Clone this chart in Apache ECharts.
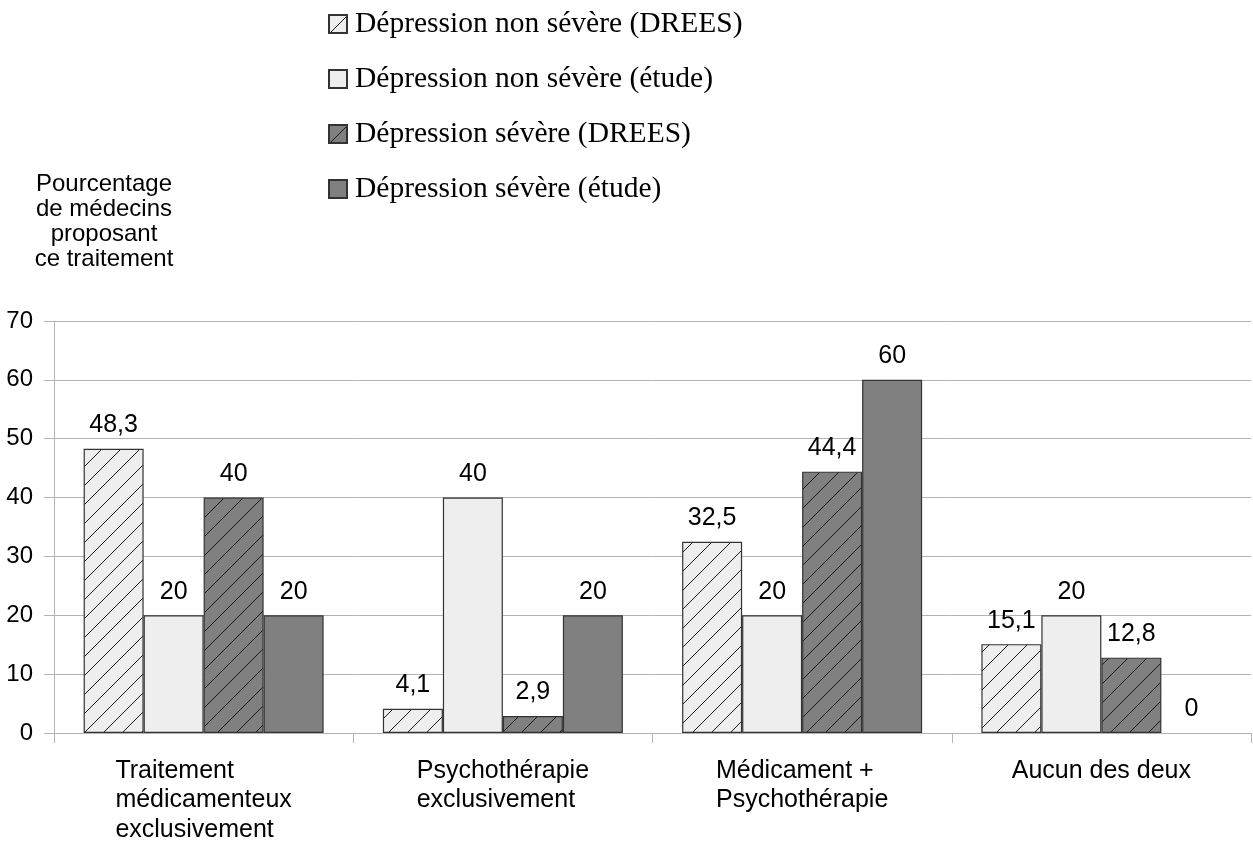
<!DOCTYPE html>
<html>
<head>
<meta charset="utf-8">
<script src="https://cdn.jsdelivr.net/npm/echarts@6/dist/echarts.min.js"></script>
<style>
  html, body { margin: 0; padding: 0; background: #fff; }
  #chart { width: 1253px; height: 843px; }
</style>
</head>
<body>
<div id="chart"></div>
<script>
// Categories of treatment proposed
const categories = [
  'Traitement\nmédicamenteux\nexclusivement',
  'Psychothérapie\nexclusivement',
  'Médicament +\nPsychothérapie',
  'Aucun des deux'
];

// Series names
const seriesNames = [
  'Dépression non sévère (DREES)',
  'Dépression non sévère (étude)',
  'Dépression sévère (DREES)',
  'Dépression sévère (étude)'
];

// Percentages per series (same order as categories)
const nonSevereDrees = [48.3, 4.1, 32.5, 15.1];
const nonSevereEtude = [20, 40, 20, 20];
const severeDrees = [40, 2.9, 44.4, 12.8];
const severeEtude = [20, 20, 60, 0];

const yTitleLines = ['Pourcentage', 'de médecins', 'proposant', 'ce traitement'];

// Diagonal hatch pattern drawn on a small tile
function hatch(bg) {
  const s = 19;
  const c = document.createElement('canvas');
  c.width = s; c.height = s;
  const ctx = c.getContext('2d');
  ctx.fillStyle = bg;
  ctx.fillRect(0, 0, s, s);
  ctx.strokeStyle = '#1a1a1a';
  ctx.lineWidth = 1;
  ctx.beginPath();
  ctx.moveTo(-1, s + 1); ctx.lineTo(s + 1, -1);
  ctx.moveTo(-2, 2); ctx.lineTo(2, -2);
  ctx.moveTo(s - 2, s + 2); ctx.lineTo(s + 2, s - 2);
  ctx.stroke();
  return { image: c, repeat: 'repeat' };
}

const LIGHT = '#eeeeee';
const DARK = '#808080';
const fills = [hatch(LIGHT), LIGHT, hatch(DARK), DARK];
const values = [nonSevereDrees, nonSevereEtude, severeDrees, severeEtude];

const fmt = v => String(v).replace('.', ',');

// A zero-height bar keeps its label but gets no outline
const toItems = arr => arr.map(v => (v === 0 ? { value: v, itemStyle: { borderWidth: 0 } } : v));

const chart = echarts.init(document.getElementById('chart'), null, { renderer: 'canvas' });

chart.setOption({
  animation: false,
  backgroundColor: '#ffffff',
  textStyle: { fontFamily: 'Liberation Sans, Arial, sans-serif', color: '#000' },
  legend: {
    orient: 'vertical',
    left: 328,
    top: 7,
    padding: 0,
    itemWidth: 18,
    itemHeight: 18,
    itemGap: 21,
    icon: 'rect',
    textStyle: {
      fontFamily: 'Liberation Serif, Times New Roman, serif',
      fontSize: 29.5,
      lineHeight: 34,
      color: '#000',
      padding: [0, 0, 0, 3]
    },
    data: seriesNames
  },
  graphic: [{
    type: 'text',
    x: 104,
    y: 172,
    style: {
      text: yTitleLines.join('\n'),
      align: 'center',
      textAlign: 'center',
      verticalAlign: 'top',
      textVerticalAlign: 'top',
      fontFamily: 'Liberation Sans, Arial, sans-serif',
      fontSize: 24,
      lineHeight: 25,
      fill: '#000'
    }
  }],
  grid: { left: 54, right: 2, top: 321, bottom: 110, containLabel: false },
  xAxis: {
    type: 'category',
    data: categories,
    axisLine: { show: true, lineStyle: { color: '#b3b3b3', width: 1 } },
    axisTick: { show: true, length: 10, alignWithLabel: false, lineStyle: { color: '#b3b3b3' } },
    axisLabel: {
      margin: 23,
      interval: 0,
      formatter: v => v.split('\n').map(l => '{a|' + l + '}').join('\n'),
      rich: {
        a: {
          align: 'left',
          fontFamily: 'Liberation Sans, Arial, sans-serif',
          fontSize: 25,
          lineHeight: 29.5,
          color: '#000'
        }
      }
    }
  },
  yAxis: {
    type: 'value',
    min: 0,
    max: 70,
    interval: 10,
    axisLine: { show: true, lineStyle: { color: '#b3b3b3', width: 1 } },
    axisTick: { show: true, length: 10, lineStyle: { color: '#b3b3b3' } },
    axisLabel: { margin: 21, fontSize: 24, color: '#000', fontFamily: 'Liberation Sans, Arial, sans-serif' },
    splitLine: { show: true, lineStyle: { color: '#b3b3b3', width: 1 } }
  },
  series: seriesNames.map((name, i) => ({
    name: name,
    type: 'bar',
    data: toItems(values[i]),
    barWidth: 60,
    barGap: '0%',
    itemStyle: { color: fills[i], borderColor: '#333333', borderWidth: 1.2 },
    label: {
      show: true,
      position: 'top',
      distance: 11,
      fontSize: 25,
      color: '#000',
      fontFamily: 'Liberation Sans, Arial, sans-serif',
      formatter: p => fmt(p.value)
    }
  }))
});
</script>
</body>
</html>
